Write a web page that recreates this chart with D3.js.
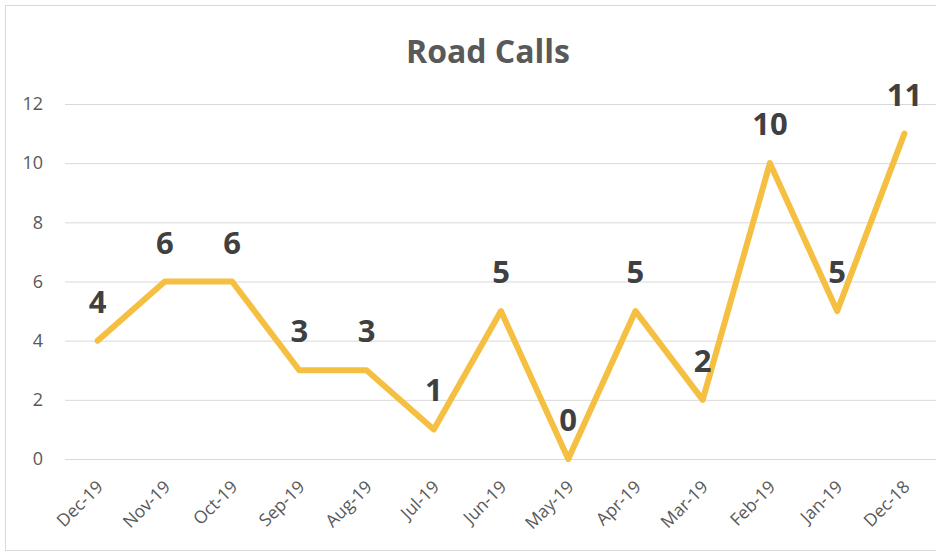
<!DOCTYPE html>
<html><head><meta charset="utf-8">
<script src="https://cdn.jsdelivr.net/npm/d3@7"></script>
<style>body{margin:0;background:#fff}svg{display:block}</style>
</head><body>
<svg id="c" width="936" height="556"></svg>
<script>
const months = ["Dec-19","Nov-19","Oct-19","Sep-19","Aug-19","Jul-19","Jun-19","May-19","Apr-19","Mar-19","Feb-19","Jan-19","Dec-18"];
const calls = [4,6,6,3,3,1,5,0,5,2,10,5,11];
const yTicks = [0,2,4,6,8,10,12];
const title = "Road Calls";

const svg = d3.select("#c");
const font = "'Open Sans', 'Noto Sans', sans-serif";

svg.append("rect").attr("x",5.5).attr("y",5.5).attr("width",940).attr("height",545)
  .attr("fill","#fff").attr("stroke","#d9d9d9").attr("stroke-width",1);

const x = d3.scalePoint().domain(months).range([97.6, 904.4]);
const y = d3.scaleLinear().domain([0,12]).range([459,104]);

const yAxis = d3.axisLeft(y).tickValues(yTicks).tickSize(-(937-65)).tickPadding(22);
const gy = svg.append("g").attr("transform","translate(65,0)").call(yAxis);
gy.select(".domain").remove();
gy.selectAll(".tick line").attr("stroke","#d9d9d9").attr("stroke-width",1);
gy.selectAll(".tick text").attr("fill","#595959").attr("font-family",font).attr("font-size",18);

const xAxis = d3.axisBottom(x).tickSize(0).tickPadding(0);
const gx = svg.append("g").attr("transform","translate(0,459)").call(xAxis);
gx.select(".domain").remove();
gx.selectAll(".tick text")
  .attr("fill","#595959").attr("font-family",font).attr("font-size",17.5)
  .attr("text-anchor","end").attr("dy",0).attr("y",0)
  .attr("transform","translate(6,29) rotate(-45)");

const line = d3.line().x((d,i)=>x(months[i])).y(d=>y(d));
svg.append("path").datum(calls).attr("d",line)
  .attr("fill","none").attr("stroke","#F5BF42").attr("stroke-width",6)
  .attr("stroke-linejoin","round").attr("stroke-linecap","round");

svg.append("g").selectAll("text").data(calls).join("text")
  .attr("x",(d,i)=>x(months[i])).attr("y",d=>y(d)-28)
  .attr("text-anchor","middle").attr("font-family",font).attr("font-weight",700)
  .attr("font-size",31).attr("fill","#404040").text(d=>d);

svg.append("text").attr("x",488).attr("y",63).attr("text-anchor","middle")
  .attr("font-family",font).attr("font-weight",700).attr("font-size",32)
  .attr("fill","#595959").text(title);
</script>
</body></html>
